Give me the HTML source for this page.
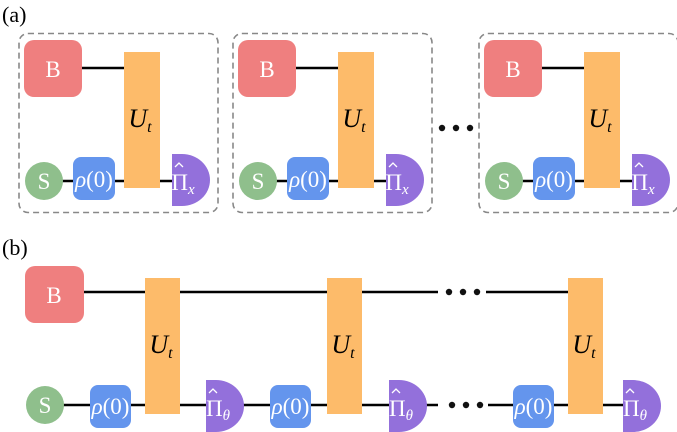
<!DOCTYPE html>
<html><head><meta charset="utf-8"><style>
html,body{margin:0;padding:0;background:#fff;}
svg{display:block;}
svg text{font-family:'Liberation Serif','DejaVu Serif','Noto Serif CJK SC','Times New Roman',serif !important;}
.w{fill:#fff;font-size:23px;}
</style></head><body>
<svg width="677" height="432" viewBox="0 0 677 432">
<defs>
<g id="cellA">
  <rect x="19" y="33.5" width="199" height="179" rx="9" fill="none" stroke="#888" stroke-width="1.6" stroke-dasharray="6,4"/>
  <line x1="82" y1="68" x2="124" y2="68" stroke="#000" stroke-width="2.5"/>
  <line x1="60" y1="181" x2="175" y2="181" stroke="#000" stroke-width="2.5"/>
  <rect x="24" y="40" width="58" height="57" rx="10" fill="#ef7f7f"/>
  <text x="53" y="77" class="w" text-anchor="middle">B</text>
  <rect x="124" y="52" width="36" height="136" fill="#fdbb6a"/>
  <text x="140" y="127" font-size="26" font-style="italic" text-anchor="middle">U<tspan font-size="16" dy="5">t</tspan></text>
  <circle cx="44" cy="181" r="19" fill="#8fbf8c"/>
  <text x="44" y="189" class="w" text-anchor="middle">S</text>
  <rect x="73" y="157" width="42" height="43" rx="8" fill="#6495ed"/>
  <text x="94" y="187" class="w" font-size="20" text-anchor="middle"><tspan font-style="italic">ρ</tspan>(0)</text>
  <path d="M172,154 L182,154 A28,26 0 0 1 182,206 L172,206 Z" fill="#9370db"/>
  <text x="183" y="190" class="w" font-size="22" text-anchor="middle">Π<tspan font-size="15" dy="4" font-style="italic">x</tspan></text>
  <path d="M175,167 L179,163 L183,167" fill="none" stroke="#fff" stroke-width="1.3"/>
</g>
<g id="dots"><circle cx="0" cy="0" r="3.2" fill="#111"/><circle cx="14" cy="0" r="3.2" fill="#111"/><circle cx="28" cy="0" r="3.2" fill="#111"/></g>
<g id="rho"><rect x="0" y="0" width="41" height="43" rx="8" fill="#6495ed"/><text x="20.5" y="29" class="w" font-size="20" text-anchor="middle"><tspan font-style="italic">ρ</tspan>(0)</text></g>
<g id="U"><rect x="0" y="0" width="35" height="136" fill="#fdbb6a"/><text x="16" y="75" font-size="26" font-style="italic" text-anchor="middle">U<tspan font-size="16" dy="5">t</tspan></text></g>
<g id="M"><path d="M0,0 L10,0 A28,26 0 0 1 10,52 L0,52 Z" fill="#9370db"/><text x="12" y="36" class="w" font-size="22" text-anchor="middle">Π<tspan font-size="15" dy="4" font-style="italic">θ</tspan></text><path d="M3,13 L7,9 L11,13" fill="none" stroke="#fff" stroke-width="1.3"/></g>
</defs>
<text x="2" y="22" font-size="22">(a)</text>
<use href="#cellA"/>
<use href="#cellA" transform="translate(214,0)"/>
<use href="#cellA" transform="translate(460,0)"/>
<use href="#dots" transform="translate(442,128)"/>

<text x="2" y="255" font-size="22">(b)</text>
<line x1="84" y1="292" x2="438" y2="292" stroke="#000" stroke-width="2.5"/>
<line x1="486" y1="292" x2="570" y2="292" stroke="#000" stroke-width="2.5"/>
<line x1="60" y1="405" x2="438" y2="405" stroke="#000" stroke-width="2.5"/>
<line x1="488" y1="405" x2="630" y2="405" stroke="#000" stroke-width="2.5"/>
<use href="#dots" transform="translate(449,292)"/>
<use href="#dots" transform="translate(452,405)"/>
<rect x="25" y="266" width="59" height="57" rx="10" fill="#ef7f7f"/>
<text x="54" y="303" class="w" text-anchor="middle">B</text>
<circle cx="45" cy="405" r="19" fill="#8fbf8c"/>
<text x="45" y="413" class="w" text-anchor="middle">S</text>
<use href="#rho" transform="translate(90,385)"/>
<use href="#U" transform="translate(145,278)"/>
<use href="#M" transform="translate(206,380)"/>
<use href="#rho" transform="translate(270,385)"/>
<use href="#U" transform="translate(327,278)"/>
<use href="#M" transform="translate(389,380)"/>
<use href="#rho" transform="translate(513,385)"/>
<use href="#U" transform="translate(568,278)"/>
<use href="#M" transform="translate(623,380)"/>
</svg>
</body></html>
